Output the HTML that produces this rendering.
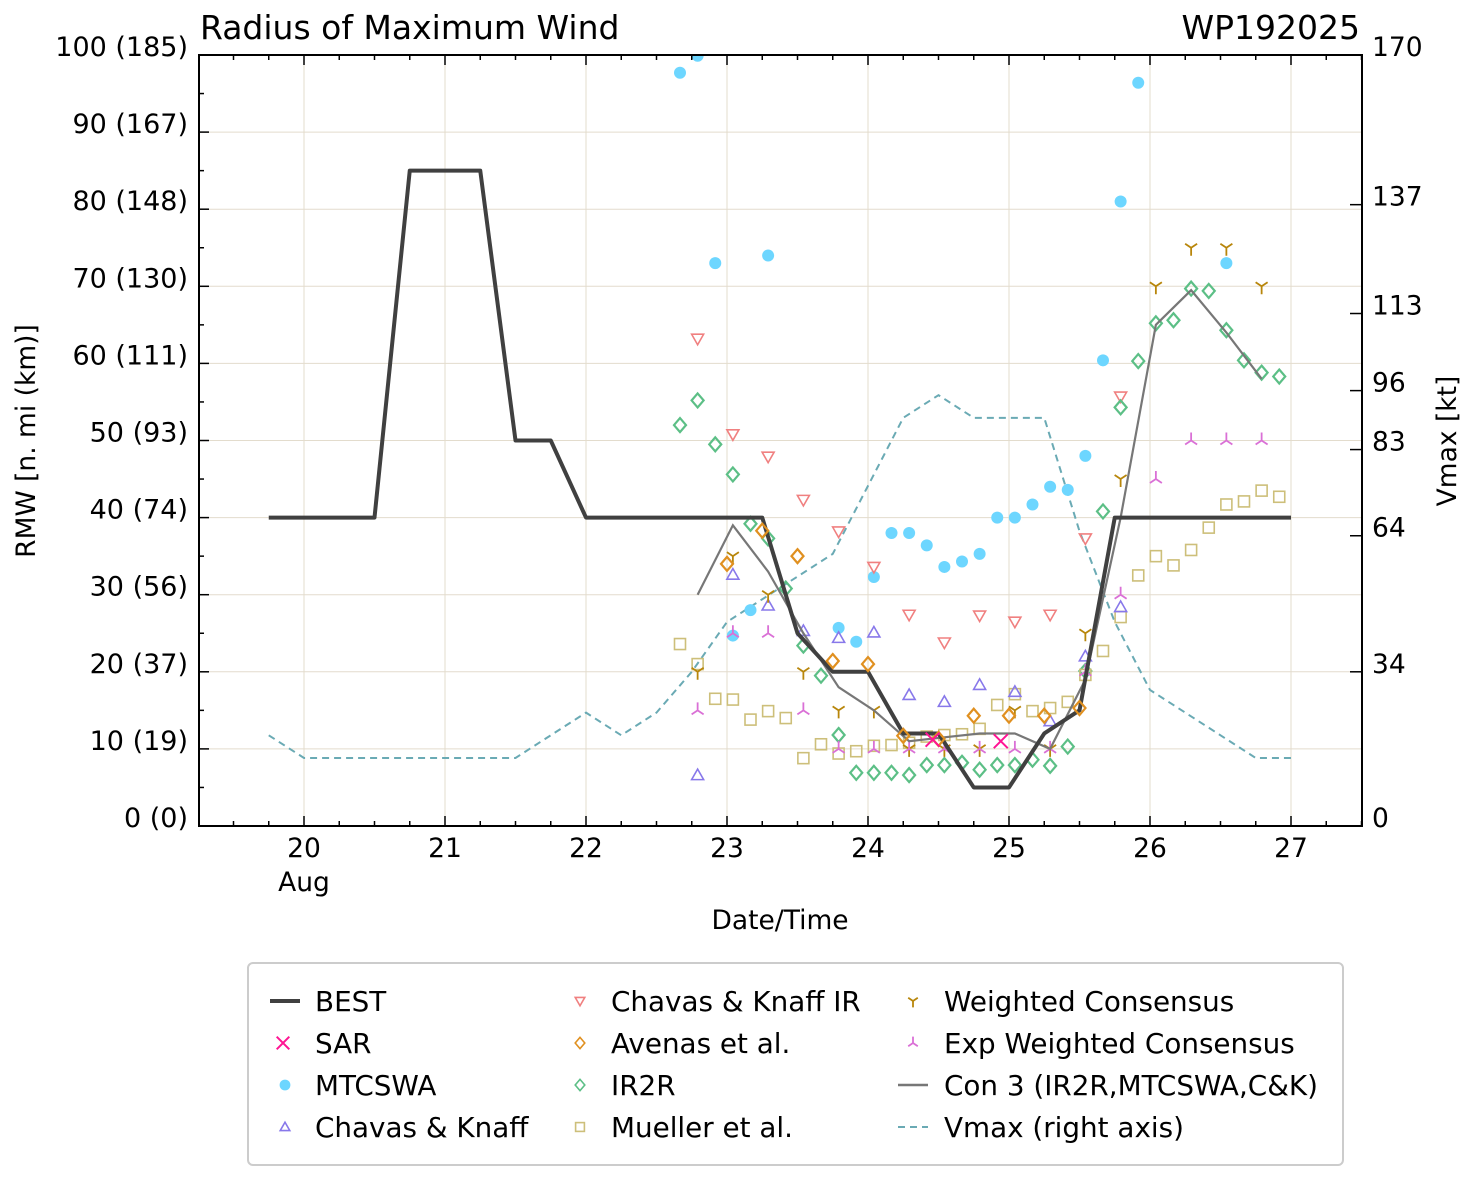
<!DOCTYPE html>
<html><head><meta charset="utf-8"><style>
html,body{margin:0;padding:0;background:#fff;}
svg{display:block;font-family:"DejaVu Sans","Liberation Sans",sans-serif;}
</style></head><body>
<svg id="chart" width="1477" height="1180" viewBox="0 0 1477 1180" xmlns="http://www.w3.org/2000/svg">
<rect width="1477" height="1180" fill="#fff"/>
<g id="grid"></g>
<g id="series"></g>
<g id="axes"></g>
<text x="200" y="39" font-size="33">Radius of Maximum Wind</text>
<text x="1360" y="39" font-size="33" text-anchor="end">WP192025</text>
<text x="780" y="929" font-size="26.5" text-anchor="middle">Date/Time</text>
<text transform="translate(35,441) rotate(-90)" font-size="26.5" text-anchor="middle">RMW [n. mi (km)]</text>
<text transform="translate(1456,441) rotate(-90)" font-size="26.5" text-anchor="middle">Vmax [kt]</text>
<g id="legend"></g>
</svg>
<script>
// ---- data (hours since Aug 20 00Z, values n mi / kt) ----
const bestH=[-6,12,18,30,36,42,48,78,84,90,96,102,108,114,120,126,132,138,168];
const bestV=[40,40,85,85,50,50,40,40,25,20,20,12,12,5,5,12,15,40,40];
const vmaxH=[-6,0,6,12,18,24,30,36,42,48,54,60,66,72,78,84,90,96,102,108,114,120,126,132,138,144,150,156,162,168];
const vmaxV=[20,15,15,15,15,15,15,15,20,25,20,25,34,45,50,55,60,75,90,95,90,90,90,65,45,30,25,20,15,15];
const con3H=[67,73,79,85,91,97,103,109,115,121,127,133,139,145,151,157,163];
const con3V=[30,39,33,25,18,15,11,11.5,12,12,10,19,40,65,69.5,64,58];
const mtcH=[64,67,70,73,76,79,91,94,97,100,103,106,109,112,115,118,121,124,127,130,133,136,139,142,157];
const mtcV=[97.7,99.9,73,24.7,28,74,25.7,23.9,32.3,38,38,36.4,33.6,34.3,35.3,40,40,41.7,44,43.6,48,60.4,81,96.4,73];
const ckirH=[67,73,79,85,91,97,103,109,115,121,127,133,139];
const ckirV=[63.2,50.8,47.9,42.3,38.2,33.6,27.4,23.8,27.3,26.5,27.4,37.3,55.7];
const avH=[72,78,84,90,96,102,108,114,120,126,132];
const avV=[34,38.3,35,21.4,21,11.7,11.3,14.3,14.3,14.3,15.3];
const gridH=[64,67,70,73,76,79,82,85,88,91,94,97,100,103,106,109,112,115,118,121,124,127,130,133,136,139,142,145,148,151,154,157,160,163,166];
const ir2rV=[52,55.2,49.5,45.6,39.2,37.3,30.8,23.4,19.5,11.8,6.9,6.9,6.9,6.6,7.9,7.9,8.2,7.3,7.9,7.9,8.6,7.8,10.3,20.1,40.8,54.3,60.3,65.2,65.6,69.7,69.4,64.3,60.4,58.8,58.3];
const muelV=[23.6,21,16.5,16.4,13.8,14.9,14,8.8,10.6,9.4,9.7,10.4,10.5,10.8,11.6,11.8,11.9,12.6,15.7,17.1,14.9,15.3,16.1,19.6,22.7,27.1,32.5,35,33.8,35.8,38.7,41.7,42.1,43.5,42.7];
const ckH=[67,73,79,85,91,97,103,109,115,121,127,133,139];
const ckV=[6.6,32.6,28.6,25.3,24.4,25.1,17,16.1,18.3,17.4,13.6,22,28.4];
const sarH=[107,118.6];
const sarV=[11.2,11];
const wcH=[67,73,79,85,91,97,103,109,115,121,127,133,139,145,151,157,163];
const wcV=[20,35,30,20,15,15,10,10,10,15,10,25,45,70,75,75,70];
const ewcV=[15,25,25,15,10,10,10,10,10,10,10,20,30,45,50,50,50];
const xTickDays=[20,21,22,23,24,25,26,27];
const yTicks=[0,10,20,30,40,50,60,70,80,90,100];
const yTickLabels=["0 (0)","10 (19)","20 (37)","30 (56)","40 (74)","50 (93)","60 (111)","70 (130)","80 (148)","90 (167)","100 (185)"];
const rTicks=[0,34,64,83,96,113,137,170];

const NS="http://www.w3.org/2000/svg";
const L=199,R=1362,T=55,B=826;
const X=h=>304+h*141/24;
const Y=v=>B-v*7.71;
const YR=k=>B-k*(B-T)/170;
function el(tag,attrs,parent){const e=document.createElementNS(NS,tag);for(const k in attrs)e.setAttribute(k,attrs[k]);parent.appendChild(e);return e;}
const grid=document.getElementById('grid'),axes=document.getElementById('axes'),ser=document.getElementById('series'),leg=document.getElementById('legend');
const gc="#e3dccd";
xTickDays.forEach(d=>{const x=X((d-20)*24);const g=el('line',{x1:x,x2:x,y1:T,y2:B,stroke:gc,'stroke-width':1},grid);
});
yTicks.forEach(v=>{const g=el('line',{x1:L,x2:R,y1:Y(v),y2:Y(v),stroke:gc,'stroke-width':1},grid);
});
const fr=el('rect',{x:L,y:T,width:R-L,height:B-T,fill:'none',stroke:'#000','stroke-width':2},axes);

for(let h=-18;h<=180;h+=6){const x=X(h);if(x<L||x>R)continue;const major=h%24===0;const len=major?10:5;
el('line',{x1:x,x2:x,y1:B,y2:B-len,stroke:'#000','stroke-width':1.5},axes);
el('line',{x1:x,x2:x,y1:T,y2:T+len,stroke:'#000','stroke-width':1.5},axes);}
xTickDays.forEach(d=>{const t=el('text',{x:X((d-20)*24),y:857,'font-size':26.5,'text-anchor':'middle'},axes);t.textContent=d;
});
const aug=el('text',{x:X(0),y:891,'font-size':26.5,'text-anchor':'middle'},axes);aug.textContent='Aug';

for(let v=0;v<=100;v+=5){const major=v%10===0;el('line',{x1:L,x2:L+(major?10:5),y1:Y(v),y2:Y(v),stroke:'#000','stroke-width':1.5},axes);}
yTicks.forEach((v,i)=>{const t=el('text',{x:188,y:Y(v)+1,'font-size':27,'text-anchor':'end'},axes);t.textContent=yTickLabels[i];
});
rTicks.forEach(k=>{el('line',{x1:R-12,x2:R,y1:YR(k),y2:YR(k),stroke:'#000','stroke-width':1.5},axes);
const t=el('text',{x:1372,y:YR(k)+1,'font-size':26.5},axes);t.textContent=k;
});
const defs=el('defs',{},ser);const cp=el('clipPath',{id:'pc'},defs);el('rect',{x:L,y:T,width:R-L,height:B-T},cp);
ser.setAttribute('clip-path','url(#pc)');
function line(H,V,yf,st,name){const p=el('polyline',Object.assign({points:H.map((h,i)=>X(h)+','+yf(V[i])).join(' '),fill:'none'},st),ser);
}
function marker(g,type,x,y,c,s){s=s||1;
 if(type==='circ')el('circle',{cx:x,cy:y,r:6*s,fill:c},g);
 else if(type==='tdown')el('polygon',{points:`${x-6*s},${y-4.5*s} ${x+6*s},${y-4.5*s} ${x},${y+6*s}`,fill:'none',stroke:c,'stroke-width':1.6},g);
 else if(type==='tup')el('polygon',{points:`${x-6*s},${y+4.5*s} ${x+6*s},${y+4.5*s} ${x},${y-6*s}`,fill:'none',stroke:c,'stroke-width':1.6},g);
 else if(type==='dia')el('polygon',{points:`${x},${y-7*s} ${x+6*s},${y} ${x},${y+7*s} ${x-6*s},${y}`,fill:'none',stroke:c,'stroke-width':s>0.9?2.2:1.6},g);
 else if(type==='sq')el('rect',{x:x-5.5*s,y:y-5.5*s,width:11*s,height:11*s,fill:'none',stroke:c,'stroke-width':1.6},g);
 else if(type==='x')el('path',{d:`M${x-7*s},${y-7*s}L${x+7*s},${y+7*s}M${x-7*s},${y+7*s}L${x+7*s},${y-7*s}`,stroke:c,'stroke-width':2},g);
 else if(type==='ydown')el('path',{d:`M${x},${y}V${y+8*s}M${x},${y}L${x-6*s},${y-4*s}M${x},${y}L${x+6*s},${y-4*s}`,stroke:c,'stroke-width':1.8,fill:'none'},g);
 else if(type==='yup')el('path',{d:`M${x},${y}V${y-8*s}M${x},${y}L${x-6*s},${y+4*s}M${x},${y}L${x+6*s},${y+4*s}`,stroke:c,'stroke-width':1.8,fill:'none'},g);}
function scatter(H,V,type,c,name){const g=el('g',{},ser);
H.forEach((h,i)=>marker(g,type,X(h),Y(V[i]),c));}
const cols={best:'#404040',sar:'#ff1493',mtc:'#6dd6ff',ck:'#8878ea',ckir:'#f08080',av:'#e09020',ir:'#5cbf86',mu:'#cdbf7a',wc:'#b8860b',ewc:'#da70d6',con:'#777',vm:'#6aaab4'};
line(vmaxH,vmaxV,YR,{stroke:cols.vm,'stroke-width':2,'stroke-dasharray':'7 5'},'vmax-line');
scatter(mtcH,mtcV,'circ',cols.mtc,'mtcswa-points');
scatter(ckirH,ckirV,'tdown',cols.ckir,'chavas-knaff-ir-points');
scatter(gridH,ir2rV,'dia',cols.ir,'ir2r-points');
scatter(gridH,muelV,'sq',cols.mu,'mueller-points');
scatter(ckH,ckV,'tup',cols.ck,'chavas-knaff-points');
scatter(wcH,wcV,'ydown',cols.wc,'weighted-consensus-points');
scatter(wcH,ewcV,'yup',cols.ewc,'exp-weighted-consensus-points');
line(con3H,con3V,Y,{stroke:cols.con,'stroke-width':2.2},'con3-line');
line(bestH,bestV,Y,{stroke:cols.best,'stroke-width':4,'stroke-linejoin':'round'},'best-track-line');
scatter(avH,avV,'dia',cols.av,'avenas-points');
scatter(sarH,sarV,'x',cols.sar,'sar-points');
const lb=el('rect',{x:248,y:963,width:1095,height:202,rx:5,fill:'#fff',stroke:'#ccc','stroke-width':2},leg);

const entries=[
 [0,0,'line','BEST',cols.best,{w:4}],[0,1,'x','SAR',cols.sar],[0,2,'circ','MTCSWA',cols.mtc],[0,3,'tup','Chavas & Knaff',cols.ck],
 [1,0,'tdown','Chavas & Knaff IR',cols.ckir],[1,1,'dia','Avenas et al.',cols.av],[1,2,'dia','IR2R',cols.ir],[1,3,'sq','Mueller et al.',cols.mu],
 [2,0,'ydown','Weighted Consensus',cols.wc],[2,1,'yup','Exp Weighted Consensus',cols.ewc],[2,2,'line','Con 3 (IR2R,MTCSWA,C&K)',cols.con,{w:2.5}],[2,3,'dash','Vmax (right axis)',cols.vm]];
const colMX=[285,580,913],colTX=[315,611,944],rowY=[1001,1043,1085,1127];
entries.forEach(e=>{const g=el('g',{},leg);
 const mx=colMX[e[0]],y=rowY[e[1]];
 if(e[2]==='line')el('line',{x1:mx-15,x2:mx+15,y1:y,y2:y,stroke:e[4],'stroke-width':e[5].w},g);
 else if(e[2]==='dash')el('line',{x1:mx-15,x2:mx+15,y1:y,y2:y,stroke:e[4],'stroke-width':2,'stroke-dasharray':'7 5'},g);
 else marker(g,e[2],e[2]==='x'?mx-2:mx,y,e[4],e[2]==='circ'||e[2]==='x'?0.9:0.8);
 const t=el('text',{x:colTX[e[0]],y:y+10,'font-size':27.8},g);t.textContent=e[3];});
</script>
</body></html>
